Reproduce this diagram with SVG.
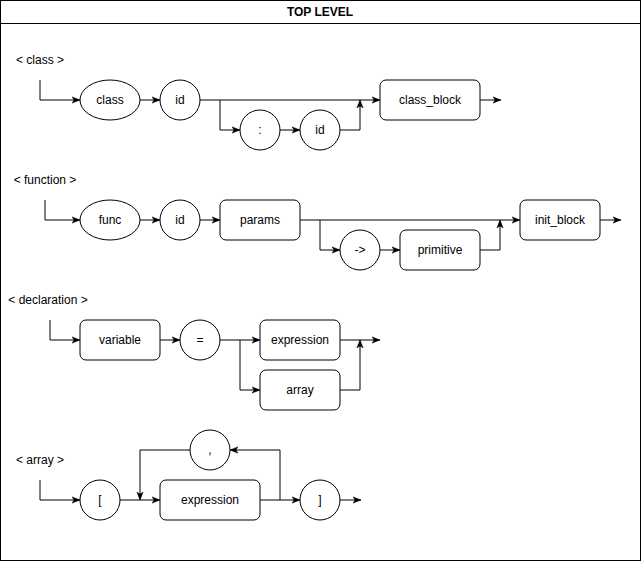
<svg xmlns="http://www.w3.org/2000/svg" width="641" height="561" viewBox="0 0 641 561">
<defs>
<style>
.shape{fill:#fff;stroke:#000;stroke-width:1}
.edge{fill:none;stroke:#000;stroke-width:1}
text{font-family:"Liberation Sans",Arial,sans-serif;font-size:12px;fill:#000;text-anchor:middle;dominant-baseline:central}
.title{font-weight:bold}
</style>
<marker id="arr" viewBox="0 0 10 10" refX="10" refY="5" markerWidth="8" markerHeight="8" markerUnits="userSpaceOnUse" orient="auto">
<path d="M0,1 L10,5 L0,9 L2.5,5 Z" fill="#000" stroke="#000" stroke-width="0.5"/>
</marker>
</defs>
<rect x="0" y="0" width="640" height="560" fill="#fff"/>
<g id="frame">
<rect class="shape" x="0.5" y="0.5" width="640" height="560" fill="none"/>
<line x1="0.5" y1="23.5" x2="640.5" y2="23.5" stroke="#000"/>
<text class="title" x="320" y="12">TOP LEVEL</text>
</g>

<g id="labels">
<text x="40" y="60">&lt; class &gt;</text>
<text x="45" y="180">&lt; function &gt;</text>
<text x="48" y="300">&lt; declaration &gt;</text>
<text x="40" y="460">&lt; array &gt;</text>
</g>

<!-- class row -->
<g id="class-kw"><ellipse class="shape" cx="110" cy="100" rx="30" ry="20"/><text x="110" y="100">class</text></g>
<g id="class-id"><circle class="shape" cx="180" cy="100" r="20"/><text x="180" y="100">id</text></g>
<g id="class-colon"><circle class="shape" cx="260" cy="130" r="20"/><text x="260" y="130">:</text></g>
<g id="class-id2"><circle class="shape" cx="320" cy="130" r="20"/><text x="320" y="130">id</text></g>
<g id="class-block"><rect class="shape" x="380" y="80" width="100" height="40" rx="6"/><text x="430" y="100">class_block</text></g>

<!-- function row -->
<g id="func-kw"><ellipse class="shape" cx="110" cy="220" rx="30" ry="20"/><text x="110" y="220">func</text></g>
<g id="func-id"><circle class="shape" cx="180" cy="220" r="20"/><text x="180" y="220">id</text></g>
<g id="func-params"><rect class="shape" x="220" y="200" width="80" height="40" rx="6"/><text x="260" y="220">params</text></g>
<g id="func-arrow"><circle class="shape" cx="360" cy="250" r="20"/><text x="360" y="250">-&gt;</text></g>
<g id="func-primitive"><rect class="shape" x="400" y="230" width="80" height="40" rx="6"/><text x="440" y="250">primitive</text></g>
<g id="func-init"><rect class="shape" x="520" y="200" width="80" height="40" rx="6"/><text x="560" y="220">init_block</text></g>

<!-- declaration row -->
<g id="decl-var"><rect class="shape" x="80" y="320" width="80" height="40" rx="6"/><text x="120" y="340">variable</text></g>
<g id="decl-eq"><circle class="shape" cx="200" cy="340" r="20"/><text x="200" y="340">=</text></g>
<g id="decl-expr"><rect class="shape" x="260" y="320" width="80" height="40" rx="6"/><text x="300" y="340">expression</text></g>
<g id="decl-array"><rect class="shape" x="260" y="370" width="80" height="40" rx="6"/><text x="300" y="390">array</text></g>

<!-- array row -->
<g id="arr-open"><circle class="shape" cx="100" cy="500" r="20"/><text x="100" y="500">[</text></g>
<g id="arr-comma"><circle class="shape" cx="210" cy="450" r="20"/><text x="210" y="450">,</text></g>
<g id="arr-expr"><rect class="shape" x="160" y="480" width="100" height="40" rx="6"/><text x="210" y="500">expression</text></g>
<g id="arr-close"><circle class="shape" cx="320" cy="500" r="20"/><text x="320" y="500">]</text></g>

<g id="connectors">
<!-- class -->
<path class="edge" d="M40,80 V100 H80" marker-end="url(#arr)"/>
<path class="edge" d="M140,100 H160" marker-end="url(#arr)"/>
<path class="edge" d="M200,100 H380" marker-end="url(#arr)"/>
<path class="edge" d="M220,100 V130 H240" marker-end="url(#arr)"/>
<path class="edge" d="M280,130 H300" marker-end="url(#arr)"/>
<path class="edge" d="M340,130 H360 V100" marker-end="url(#arr)"/>
<path class="edge" d="M480,100 H501" marker-end="url(#arr)"/>
<!-- function -->
<path class="edge" d="M45,200 V220 H80" marker-end="url(#arr)"/>
<path class="edge" d="M140,220 H160" marker-end="url(#arr)"/>
<path class="edge" d="M200,220 H220" marker-end="url(#arr)"/>
<path class="edge" d="M300,220 H520" marker-end="url(#arr)"/>
<path class="edge" d="M320,220 V250 H340" marker-end="url(#arr)"/>
<path class="edge" d="M380,250 H400" marker-end="url(#arr)"/>
<path class="edge" d="M480,250 H500 V220" marker-end="url(#arr)"/>
<path class="edge" d="M600,220 H621" marker-end="url(#arr)"/>
<!-- declaration -->
<path class="edge" d="M50,320 V340 H80" marker-end="url(#arr)"/>
<path class="edge" d="M160,340 H180" marker-end="url(#arr)"/>
<path class="edge" d="M220,340 H260" marker-end="url(#arr)"/>
<path class="edge" d="M240,340 V390 H260" marker-end="url(#arr)"/>
<path class="edge" d="M340,340 H380" marker-end="url(#arr)"/>
<path class="edge" d="M340,390 H360 V340" marker-end="url(#arr)"/>
<!-- array -->
<path class="edge" d="M40,480 V500 H80" marker-end="url(#arr)"/>
<path class="edge" d="M120,500 H160" marker-end="url(#arr)"/>
<path class="edge" d="M260,500 H300" marker-end="url(#arr)"/>
<path class="edge" d="M280,500 V450 H230" marker-end="url(#arr)"/>
<path class="edge" d="M190,450 H140 V500" marker-end="url(#arr)"/>
<path class="edge" d="M340,500 H361" marker-end="url(#arr)"/>
</g>
</svg>
